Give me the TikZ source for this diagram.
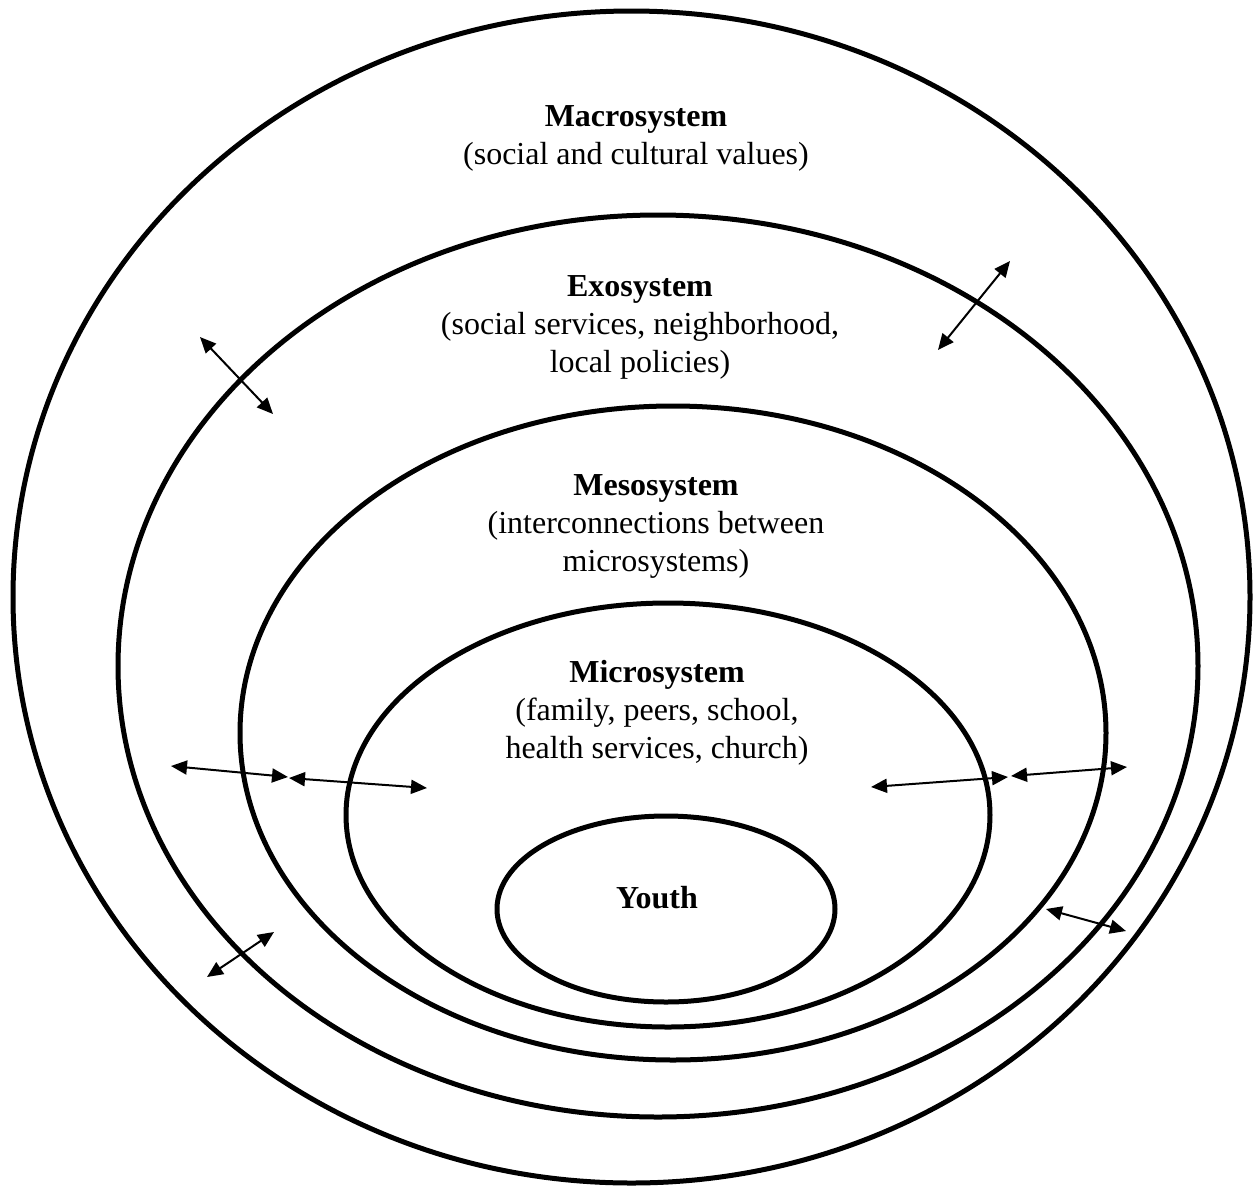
\documentclass[tikz,border=0pt]{standalone}
\usepackage{fontspec}
\setmainfont{Liberation Serif}
\usetikzlibrary{arrows.meta}
\begin{document}
\begin{tikzpicture}[x=1pt,y=-1pt,
  ring/.style={line width=5pt},
  link/.style={line width=2pt,{Triangle[length=16pt,width=14pt]}-{Triangle[length=16pt,width=14pt]}},
  lbl/.style={align=center,inner sep=0pt,font=\fontsize{32}{38}\selectfont}]
\useasboundingbox (0,0) rectangle (1254,1187);
% rings
\coordinate (macroC) at (631.5,597);
\coordinate (exoC) at (658,666);
\coordinate (mesoC) at (673,733);
\coordinate (microC) at (668,815);
\coordinate (youthC) at (666,909);
\draw[ring] (macroC) ellipse [x radius=618.5pt, y radius=586pt];
\draw[ring] (exoC) ellipse [x radius=540pt, y radius=451pt];
\draw[ring] (mesoC) ellipse [x radius=433pt, y radius=327pt];
\draw[ring] (microC) ellipse [x radius=322pt, y radius=212pt];
\draw[ring] (youthC) ellipse [x radius=169pt, y radius=93pt];
% labels
\node[lbl] (macro) at (636,138) {\textbf{Macrosystem}\\(social and cultural values)};
\node[lbl] (exo) at (640,327) {\textbf{Exosystem}\\(social services, neighborhood,\\local policies)};
\node[lbl] (meso) at (656,526) {\textbf{Mesosystem}\\(interconnections between\\microsystems)};
\node[lbl] (micro) at (657,713) {\textbf{Microsystem}\\(family, peers, school,\\health services, church)};
\node[lbl] (youth) at (657,898) {\textbf{Youth}};
% arrow end points
\coordinate (a1) at (200,337); \coordinate (b1) at (273,414);
\coordinate (a2) at (1010,261); \coordinate (b2) at (938,350);
\coordinate (a3) at (171,766); \coordinate (b3) at (288,777);
\coordinate (a4) at (289,778); \coordinate (b4) at (427,788);
\coordinate (a5) at (871,787); \coordinate (b5) at (1008,777);
\coordinate (a6) at (1011,776); \coordinate (b6) at (1127,767);
\coordinate (a7) at (274,932); \coordinate (b7) at (207,977);
\coordinate (a8) at (1046,909); \coordinate (b8) at (1126,931);
\foreach \i in {1,...,8} \draw[link] (a\i) -- (b\i);
\end{tikzpicture}
\end{document}
